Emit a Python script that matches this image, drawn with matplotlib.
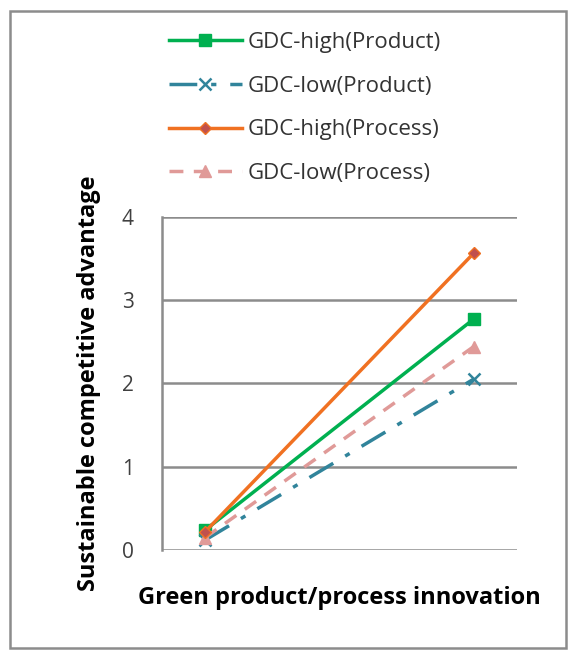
import matplotlib.pyplot as plt
from matplotlib.patches import Rectangle

# x positions: low / high green innovation
levels = [0, 1]
series_names = ['GDC-high(Product)', 'GDC-low(Product)',
                'GDC-high(Process)', 'GDC-low(Process)']
high_product = [0.24, 2.77]
low_product = [0.12, 2.05]
high_process = [0.22, 3.56]
low_process = [0.15, 2.44]

plt.rcParams['font.family'] = ['Open Sans', 'DejaVu Sans']

fig = plt.figure(figsize=(5.83, 6.65), dpi=100)
ax = fig.add_axes([0.2774, 0.1729, 0.6094, 0.5012])

# frame round the whole picture
fig.patches.append(Rectangle((0.017, 0.026), 0.954, 0.957, transform=fig.transFigure,
                             fill=False, edgecolor='#8c8c8c', linewidth=1.8))

ax.plot(levels, high_product, color='#00B050', lw=2.5, marker='s', ms=8,
        label=series_names[0], zorder=3)
ax.plot(levels, low_product, color='#31849B', lw=2.5, linestyle=(0, (8, 4, 1.5, 4)),
        marker='x', ms=8, mew=1.8, label=series_names[1], zorder=3)
ax.plot(levels, high_process, color='#F07122', lw=2.5, marker='D', ms=6,
        mfc='#C0504D', mec='#F07122', label=series_names[2], zorder=4)
ax.plot(levels, low_process, color='#E09A98', lw=2.5, linestyle=(0, (4, 3)),
        marker='^', ms=8, label=series_names[3], zorder=3)

ax.set_xlim(-0.162, 1.162)
ax.set_ylim(0, 4)
ax.set_yticks([0, 1, 2, 3, 4])
ax.set_xticks([])
ax.grid(axis='y', color='#8c8c8c', lw=1.8)
ax.set_axisbelow(True)
for s in ['top', 'right', 'bottom']:
    ax.spines[s].set_visible(False)
ax.spines['left'].set_color('#8c8c8c')
ax.spines['left'].set_linewidth(1.8)
ax.tick_params(axis='y', length=0, pad=20, labelsize=15, labelcolor='#404040')

ax.set_ylabel('Sustainable competitive advantage', fontsize=17, fontweight='bold',
              labelpad=15)
ax.set_xlabel('Green product/process innovation', fontsize=17, fontweight='bold',
              labelpad=26)

ax.legend(loc='upper left', bbox_to_anchor=(0.255, 0.982), bbox_transform=fig.transFigure,
          frameon=False, fontsize=16, handlelength=3.3, labelspacing=1.02,
          handletextpad=0.25, labelcolor='#333333')

fig.savefig('out.png', dpi=100)
